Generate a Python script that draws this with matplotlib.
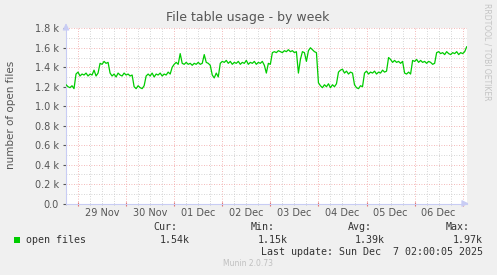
import numpy as np
import matplotlib
matplotlib.use("Agg")
import matplotlib.pyplot as plt
from matplotlib.ticker import MultipleLocator, FixedLocator
import matplotlib.transforms as mtransforms

# hours relative to 29 Nov 00:00, one sample per hour
hours = np.arange(-6, 195, 1)
open_files = [
    1.22, 1.20, 1.19, 1.21, 1.18, 1.33, 1.35, 1.31, 1.33, 1.32,
    1.34, 1.31, 1.33, 1.32, 1.37, 1.31, 1.34, 1.44, 1.43, 1.46,
    1.44, 1.45, 1.34, 1.31, 1.33, 1.30, 1.34, 1.32, 1.31, 1.34,
    1.32, 1.33, 1.31, 1.32, 1.20, 1.18, 1.21, 1.19, 1.18, 1.21,
    1.31, 1.33, 1.31, 1.34, 1.30, 1.33, 1.32, 1.34, 1.31, 1.33,
    1.32, 1.35, 1.33, 1.40, 1.43, 1.45, 1.43, 1.54, 1.44, 1.43,
    1.45, 1.43, 1.44, 1.42, 1.44, 1.43, 1.45, 1.43, 1.44, 1.53,
    1.45, 1.44, 1.42, 1.32, 1.29, 1.34, 1.30, 1.44, 1.46, 1.45,
    1.47, 1.44, 1.46, 1.43, 1.45, 1.44, 1.46, 1.43, 1.45, 1.44,
    1.47, 1.43, 1.45, 1.44, 1.46, 1.43, 1.45, 1.44, 1.46, 1.42,
    1.34, 1.44, 1.43, 1.55, 1.56, 1.55, 1.57, 1.56, 1.55, 1.57,
    1.56, 1.58, 1.56, 1.57, 1.55, 1.56, 1.34, 1.48, 1.56, 1.55,
    1.46, 1.57, 1.60, 1.58, 1.56, 1.55, 1.24, 1.21, 1.19, 1.22,
    1.20, 1.23, 1.19, 1.22, 1.20, 1.23, 1.35, 1.37, 1.38, 1.34,
    1.36, 1.33, 1.35, 1.34, 1.22, 1.19, 1.18, 1.21, 1.20, 1.34,
    1.36, 1.33, 1.35, 1.34, 1.36, 1.33, 1.35, 1.34, 1.37, 1.35,
    1.36, 1.50, 1.48, 1.45, 1.47, 1.45, 1.46, 1.44, 1.46, 1.34,
    1.33, 1.35, 1.33, 1.47, 1.46, 1.48, 1.45, 1.47, 1.45, 1.46,
    1.44, 1.46, 1.45, 1.43, 1.44, 1.55, 1.56, 1.54, 1.55, 1.53,
    1.56, 1.54, 1.53, 1.55, 1.54, 1.56, 1.53, 1.55, 1.54, 1.56,
    1.61,
]
assert len(open_files) == len(hours)

day_labels = ["29 Nov", "30 Nov", "01 Dec", "02 Dec", "03 Dec", "04 Dec", "05 Dec", "06 Dec"]
ytick_vals = [0.0, 0.2, 0.4, 0.6, 0.8, 1.0, 1.2, 1.4, 1.6, 1.8]
ytick_labels = ["0.0", "0.2 k", "0.4 k", "0.6 k", "0.8 k", "1.0 k", "1.2 k", "1.4 k", "1.6 k", "1.8 k"]

stat_names = ["Cur:", "Min:", "Avg:", "Max:"]
stat_values = ["1.54k", "1.15k", "1.39k", "1.97k"]

W, H = 497, 275
bg = "#f0f0f0"
txt = "#555555"
axis_col = "#c8ccf4"

fig = plt.figure(figsize=(W / 100, H / 100), dpi=100, facecolor=bg)


def px(x, y):
    return x / W, 1 - y / H


ax = fig.add_axes([66 / W, (H - 203.5) / H, (466.7 - 66) / W, (203.5 - 28.3) / H])
ax.set_facecolor("white")
ax.set_xlim(-6, 194)
ax.set_ylim(0, 1.8)

ax.plot(hours, open_files, color="#00cc00", lw=0.9, zorder=3)

# grids
ax.xaxis.set_major_locator(MultipleLocator(24))
ax.xaxis.set_minor_locator(MultipleLocator(6))
ax.yaxis.set_major_locator(FixedLocator(ytick_vals))
ax.yaxis.set_minor_locator(MultipleLocator(0.1))
ax.grid(which="minor", color="#c8c8c8", ls=(0, (1, 2)), lw=0.6)
ax.grid(which="major", color="#f0a0a0", ls=(0, (1, 2)), lw=0.6)
ax.set_axisbelow(True)

ax.set_yticklabels(ytick_labels)
ax.tick_params(axis="y", which="major", labelsize=7, colors=txt, length=2, direction="out", pad=3)
ax.tick_params(axis="y", which="minor", length=0)
ax.tick_params(axis="x", which="major", labelbottom=False, length=3, direction="inout", color="#e07070")
ax.tick_params(axis="x", which="minor", length=2, direction="inout", color="#c0c0c0")
for lab in ax.get_yticklabels():
    lab.set_color(txt)

trans = mtransforms.blended_transform_factory(ax.transData, ax.transAxes)
for i, lab in enumerate(day_labels):
    ax.text(12 + 24 * i, -0.055, lab, transform=trans, ha="center", va="center",
            fontsize=7, color=txt)

for s in ["top", "right"]:
    ax.spines[s].set_visible(False)
for s in ["left", "bottom"]:
    ax.spines[s].set_color(axis_col)
    ax.spines[s].set_linewidth(0.8)

ax.annotate("", xy=(0, 1.045), xycoords="axes fraction", xytext=(0, 0.99),
            arrowprops=dict(arrowstyle="-|>,head_width=0.2,head_length=0.4", color=axis_col, lw=0.8))
ax.annotate("", xy=(1.012, 0), xycoords="axes fraction", xytext=(0.99, 0),
            arrowprops=dict(arrowstyle="-|>,head_width=0.2,head_length=0.4", color=axis_col, lw=0.8))

fig.text(*px(248, 18), "File table usage - by week", ha="center", va="center",
         fontsize=9, color="#555555")
fig.text(*px(11, 115), "number of open files", rotation=90, ha="center", va="center",
         fontsize=7.5, color=txt)
fig.text(*px(487, 52), "RRDTOOL / TOBI OETIKER", rotation=270, ha="center", va="center",
         fontsize=5.5, color="#c4c4c4")

# legend
mono = "DejaVu Sans Mono"
fig.patches.append(plt.Rectangle(px(14, 243), 6 / W, 6 / H, transform=fig.transFigure,
                                 facecolor="#00cc00", edgecolor="none"))
fig.text(*px(26, 240), "open files", ha="left", va="center", fontsize=7.2,
         family=mono, color="#333333")
name_right = [177.7, 275, 372, 470]
val_right = [190, 288, 385, 483]
for i in range(4):
    fig.text(*px(name_right[i], 227.3), stat_names[i], ha="right", va="center",
             fontsize=7.2, family=mono, color="#333333")
    fig.text(*px(val_right[i], 240), stat_values[i], ha="right", va="center",
             fontsize=7.2, family=mono, color="#333333")
fig.text(*px(483, 251.7), "Last update: Sun Dec  7 02:00:05 2025", ha="right", va="center",
         fontsize=7.2, family=mono, color="#333333")
fig.text(*px(248, 264), "Munin 2.0.73", ha="center", va="center", fontsize=5.5, color="#c0c0c0")

fig.savefig("out.png", dpi=100, facecolor=bg)
